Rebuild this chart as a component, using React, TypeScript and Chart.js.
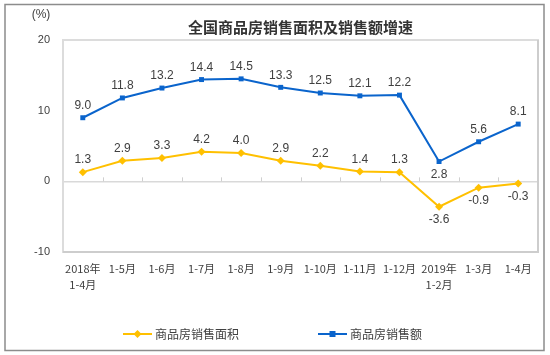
import React, { useEffect, useRef } from "react";
import { Chart, registerables } from "chart.js";

Chart.register(...registerables);

const categories: string[][] = [
  ["2018年", "1-4月"], ["1-5月"], ["1-6月"], ["1-7月"], ["1-8月"], ["1-9月"],
  ["1-10月"], ["1-11月"], ["1-12月"], ["2019年", "1-2月"], ["1-3月"], ["1-4月"],
];
const areaGrowth: number[] = [1.3, 2.9, 3.3, 4.2, 4.0, 2.9, 2.2, 1.4, 1.3, -3.6, -0.9, -0.3];
const salesGrowth: number[] = [9.0, 11.8, 13.2, 14.4, 14.5, 13.3, 12.5, 12.1, 12.2, 2.8, 5.6, 8.1];
const areaLabelsBelow: number[] = [9, 10, 11];
const salesLabelsBelow: number[] = [9];
const seriesNames: string[] = ["商品房销售面积", "商品房销售额"];
const titleText = "全国商品房销售面积及销售额增速";
const unitText = "(%)";

const YELLOW = "#FFC000";
const BLUE = "#0A64CC";
const TEXT = "#404040";
const CJK = '"Noto Sans CJK SC", sans-serif';
const LAT = '"Liberation Sans", Arial, sans-serif';

export default function App() {
  const ref = useRef<HTMLCanvasElement>(null);
  useEffect(() => {
    document.body.style.margin = "0";
    const canvas = ref.current!;
    const belowSets = [areaLabelsBelow, salesLabelsBelow];

    const decor = {
      id: "decor",
      beforeDraw(chart: any) {
        const c = chart.ctx;
        c.save();
        c.fillStyle = "#fff";
        c.fillRect(0, 0, chart.width, chart.height);
        c.strokeStyle = "#8c8c8c";
        c.lineWidth = 1.5;
        c.strokeRect(5, 4.5, 539, 346);
        c.restore();
      },
      beforeDatasetsDraw(chart: any) {
        const c = chart.ctx;
        const a = chart.chartArea;
        const xs = chart.scales.x;
        const ys = chart.scales.y;
        c.save();
        c.strokeStyle = "#dcdcdc";
        c.lineWidth = 2;
        c.strokeRect(a.left, a.top, a.right - a.left, a.bottom - a.top);
        c.strokeStyle = "#cdcdcd";
        c.beginPath();
        c.moveTo(a.right, a.top);
        c.lineTo(a.right, a.bottom);
        c.lineTo(a.left, a.bottom);
        c.stroke();
        const y0 = ys.getPixelForValue(0);
        c.lineWidth = 1;
        c.strokeStyle = "#cfcfcf";
        for (let i = 1; i < categories.length; i++) {
          const x = Math.round((xs.getPixelForValue(i - 1) + xs.getPixelForValue(i)) / 2) + 0.5;
          c.beginPath();
          c.moveTo(x, y0);
          c.lineTo(x, y0 - 4);
          c.stroke();
        }
        c.restore();
      },
      afterDatasetsDraw(chart: any) {
        const c = chart.ctx;
        c.save();
        c.font = `12px ${LAT}`;
        c.fillStyle = TEXT;
        c.textAlign = "center";
        c.textBaseline = "middle";
        chart.data.datasets.forEach((ds: any, di: number) => {
          const meta = chart.getDatasetMeta(di);
          meta.data.forEach((pt: any, i: number) => {
            const below = belowSets[di].includes(i);
            const v = ds.data[i] as number;
            c.fillText(v.toFixed(1), pt.x, pt.y + (below ? 13 : -12));
          });
        });
        // title & unit
        c.font = `bold 15px ${CJK}`;
        c.fillStyle = "#333";
        c.fillText(titleText, (chart.chartArea.left + chart.chartArea.right) / 2, 27);
        c.font = `12px ${LAT}`;
        c.fillStyle = TEXT;
        c.fillText(unitText, 41, 15);
        // legend
        const items = [
          { x: 123, color: YELLOW, style: "diamond", name: seriesNames[0] },
          { x: 318, color: BLUE, style: "square", name: seriesNames[1] },
        ];
        const ly = 334;
        items.forEach((it) => {
          c.strokeStyle = it.color;
          c.lineWidth = 2;
          c.beginPath();
          c.moveTo(it.x, ly);
          c.lineTo(it.x + 29, ly);
          c.stroke();
          c.fillStyle = it.color;
          const mx = it.x + 14.5;
          if (it.style === "square") {
            c.fillRect(mx - 3, ly - 3, 6, 6);
          } else {
            c.beginPath();
            c.moveTo(mx, ly - 4);
            c.lineTo(mx + 4, ly);
            c.lineTo(mx, ly + 4);
            c.lineTo(mx - 4, ly);
            c.closePath();
            c.fill();
          }
          c.fillStyle = TEXT;
          c.textAlign = "left";
          c.font = `12px ${CJK}`;
          c.fillText(it.name, it.x + 32, ly);
        });
        c.restore();
      },
    };

    const chart = new Chart(canvas, {
      type: "line",
      data: {
        labels: categories,
        datasets: [
          {
            label: seriesNames[0],
            data: areaGrowth,
            borderColor: YELLOW,
            backgroundColor: YELLOW,
            borderWidth: 2,
            pointStyle: "rectRot",
            pointRadius: 4,
            pointBorderWidth: 0,
            tension: 0,
          },
          {
            label: seriesNames[1],
            data: salesGrowth,
            borderColor: BLUE,
            backgroundColor: BLUE,
            borderWidth: 2,
            pointStyle: "rect",
            pointRadius: 3.5,
            pointBorderWidth: 0,
            tension: 0,
          },
        ],
      },
      options: {
        responsive: false,
        animation: false,
        events: [],
        layout: { padding: { top: 40, right: 12, left: 0, bottom: 0 } },
        plugins: { legend: { display: false }, title: { display: false }, tooltip: { enabled: false } },
        scales: {
          x: {
            offset: true,
            grid: { display: false, drawTicks: false },
            border: { display: false },
            ticks: {
              color: TEXT,
              font: { family: CJK, size: 11, lineHeight: 1.45 },
              padding: 9,
              maxRotation: 0,
              autoSkip: false,
            },
            afterFit(scale: any) {
              scale.height = 103;
            },
          },
          y: {
            min: -10,
            max: 20,
            grid: {
              drawTicks: false,
              color: (ctx: any) => (ctx.tick && ctx.tick.value === 0 ? "#d9d9d9" : "rgba(0,0,0,0)"),
              lineWidth: 1.5,
            },
            border: { display: false },
            ticks: {
              stepSize: 10,
              color: TEXT,
              font: { family: LAT, size: 11 },
              padding: 13,
            },
            afterFit(scale: any) {
              scale.width = 63;
            },
          },
        },
      },
      plugins: [decor],
    } as any);
    return () => chart.destroy();
  }, []);
  return (
    <div style={{ width: 550, height: 355 }}>
      <canvas ref={ref} width={550} height={355} />
    </div>
  );
}
